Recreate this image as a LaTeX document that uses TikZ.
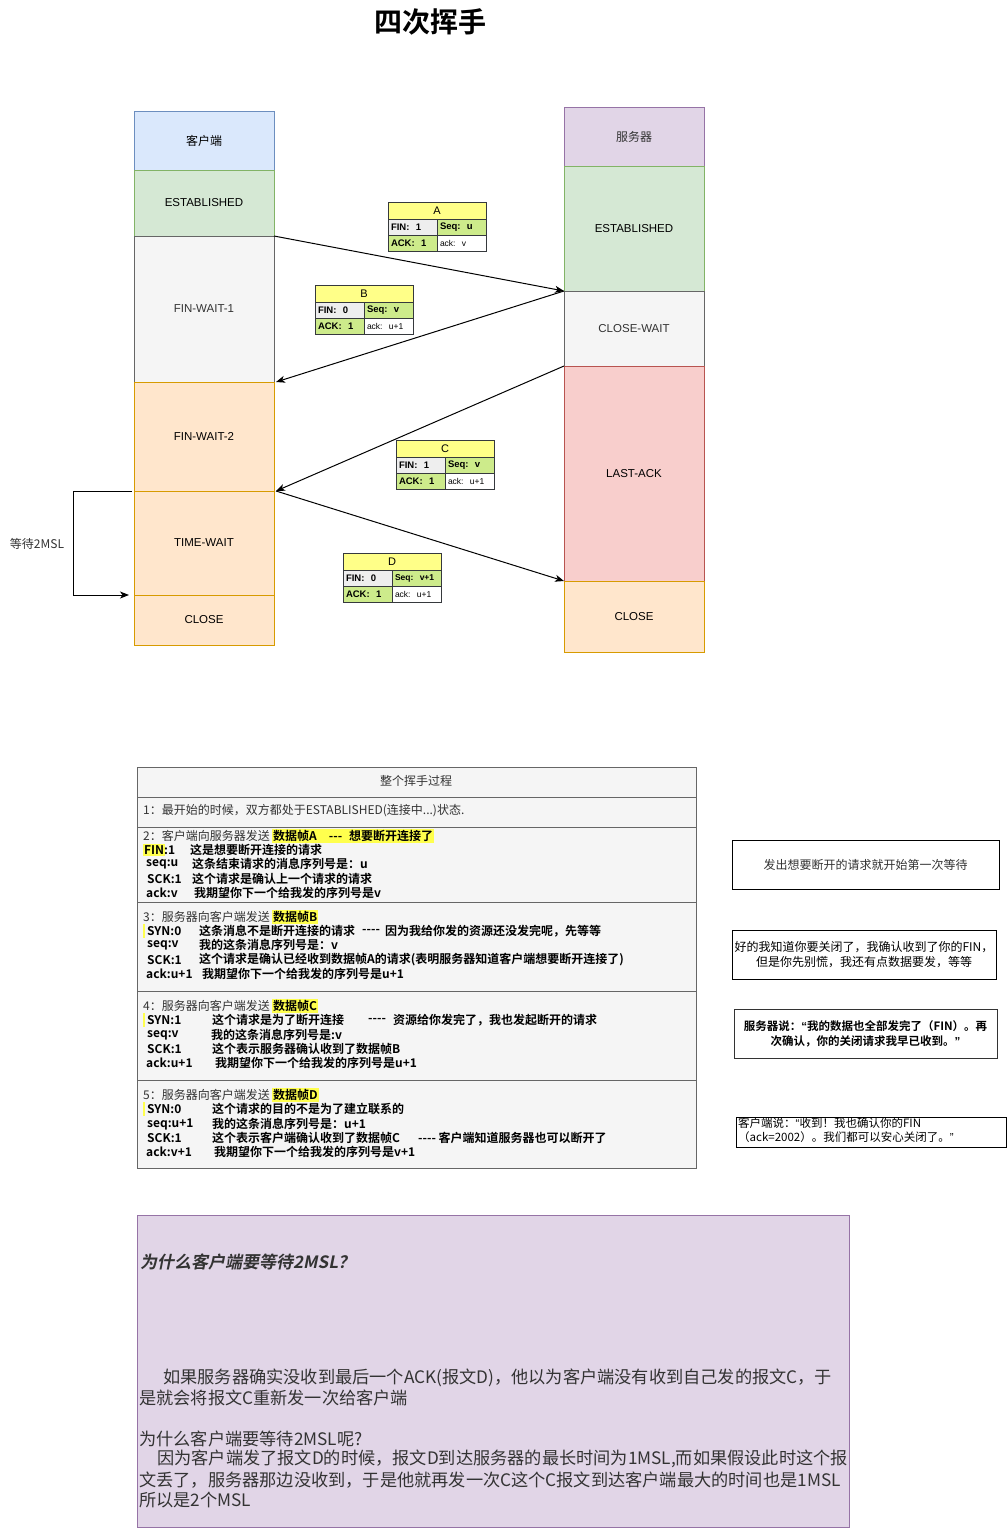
\documentclass[tikz,border=0pt]{standalone}
\usepackage{fontspec}
\setmainfont{Noto Sans CJK SC}[BoldFont={Noto Sans CJK SC Bold}, ItalicFont={Noto Sans CJK SC}, ItalicFeatures={FakeSlant=0.2}, BoldItalicFont={Noto Sans CJK SC Bold}, BoldItalicFeatures={FakeSlant=0.2}]
\newfontfamily\lat{Liberation Sans}
\usetikzlibrary{arrows.meta}
\definecolor{cbluef}{HTML}{DAE8FC}\definecolor{cbluel}{HTML}{6C8EBF}
\definecolor{cgreenf}{HTML}{D5E8D4}\definecolor{cgreenl}{HTML}{82B366}
\definecolor{cgrayf}{HTML}{F5F5F5}\definecolor{cgrayl}{HTML}{666666}
\definecolor{corangef}{HTML}{FFE6CC}\definecolor{corangel}{HTML}{D79B00}
\definecolor{cpurf}{HTML}{E1D5E7}\definecolor{cpurl}{HTML}{9673A6}
\definecolor{credf}{HTML}{F8CECC}\definecolor{credl}{HTML}{B85450}
\definecolor{fyel}{HTML}{FFFF88}\definecolor{fborder}{HTML}{36393D}
\definecolor{fgreen}{HTML}{CDEB8B}\definecolor{fgray}{HTML}{EEEEEE}
\definecolor{hly}{HTML}{FFFF4D}\definecolor{c333}{HTML}{333333}
\newcounter{tn}
\newcommand\tx[4][]{\stepcounter{tn}\node[txt,#1] (t\arabic{tn}) at (#2,#3) {#4};}
\newcommand\dsh{-{}-{}-}
\newcommand\dshh{-{}-{}-{}-}
\newcommand\ftab[8]{%
 \node[ftitle] (#1t) at (#2,#3) {#4};
 \node[fcell, fill=fgray, anchor=north west] (#1a) at (#1t.south west) {\textbf{#5}};
 \node[fcell, fill=fgreen, anchor=north east] (#1b) at (#1t.south east) {\textbf{#6}};
 \node[fcell, fill=fgreen, anchor=north west] (#1c) at (#1a.south west) {\textbf{#7}};
 \node[fcell, fill=white, anchor=north west] (#1d) at (#1b.south west) {\fontsize{8.5}{9}\selectfont #8};
}
\begin{document}
\begin{tikzpicture}[x=1pt,y=-1pt,
 st/.style={draw, line width=1pt, minimum width=140, anchor=north west, inner sep=0, outer sep=0, font=\lat\fontsize{11.5}{13}\selectfont},
 sblue/.style={st, fill=cbluef, draw=cbluel, font=\fontsize{12}{14}\selectfont},
 spur/.style={st, fill=cpurf, draw=cpurl, font=\fontsize{12}{14}\selectfont, text=c333},
 sgreen/.style={st, fill=cgreenf, draw=cgreenl},
 sgray/.style={st, fill=cgrayf, draw=cgrayl, text=c333},
 sorange/.style={st, fill=corangef, draw=corangel},
 sred/.style={st, fill=credf, draw=credl},
 arr/.style={draw=black, line width=1pt, -{Stealth[length=9pt,width=7pt,inset=2.5pt]}},
 ftitle/.style={draw=fborder, fill=fyel, line width=1pt, minimum width=98, minimum height=17, anchor=north west, inner sep=0, outer sep=0, font=\lat\fontsize{11}{12}\selectfont},
 fcell/.style={draw=fborder, line width=1pt, minimum height=16, text width=43, inner xsep=3, inner ysep=0, outer sep=0, align=left, font=\lat\fontsize{9.5}{10}\selectfont},
 txt/.style={anchor=west, inner sep=0, font=\fontsize{12}{14}\selectfont, text=c333},
 bd/.style={font=\bfseries\fontsize{12}{14}\selectfont, text=black},
 hl/.style={fill=hly, inner xsep=1, inner ysep=1.5},
 tbl/.style={draw=cgrayl, fill=cgrayf, line width=1pt, minimum width=559, anchor=north west, inner sep=0, outer sep=0},
 rbox/.style={draw=black, line width=1pt, anchor=north west, inner sep=0, outer sep=0, align=center},
 ptxt/.style={anchor=west, inner sep=0, font=\fontsize{17.2}{20}\selectfont, text=c333}
]
\fill[white] (0,0) rectangle (1007,1528);
\useasboundingbox (0,0) rectangle (1007,1528);

\node[font=\bfseries\fontsize{28}{30}\selectfont] (title) at (430,22) {四次挥手};

% client column
\node[sblue, minimum height=59] (c0) at (134,111) {客户端};
\node[sgreen, minimum height=66] (c1) at (134,170) {ESTABLISHED};
\node[sgray, minimum height=146] (c2) at (134,236) {FIN-WAIT-1};
\node[sorange, minimum height=109] (c3) at (134,382) {FIN-WAIT-2};
\node[sorange, minimum height=104] (c4) at (134,491) {TIME-WAIT};
\node[sorange, minimum height=50] (c5) at (134,595) {CLOSE};

% server column
\node[spur, minimum height=59] (s0) at (564,107) {服务器};
\node[sgreen, minimum height=125] (s1) at (564,166) {ESTABLISHED};
\node[sgray, minimum height=75] (s2) at (564,291) {CLOSE-WAIT};
\node[sred, minimum height=215] (s3) at (564,366) {LAST-ACK};
\node[sorange, minimum height=71] (s4) at (564,581) {CLOSE};

% messages
\draw[arr] (c2.north east) -- (s2.north west);
\draw[arr] (s2.north west) -- ([xshift=2pt]c3.north east);
\draw[arr] (s3.north west) -- ([xshift=2pt]c4.north east);
\draw[arr] ([xshift=2pt]c4.north east) -- (s4.north west);

% wait 2MSL
\draw[arr] ([xshift=-2pt]c4.north west) -- (73,491) |- ([xshift=-5pt]c5.north west);
\node[font=\fontsize{12}{14}\selectfont, text=c333, inner sep=0] (w2msl) at (37,544) {等待2MSL};

% frame tables
\ftab{fa}{388}{202}{A}{FIN:\ \ 1}{Seq:\ \ u}{ACK:\ \ 1}{ack:\ \ v}
\ftab{fb}{315}{285}{B}{FIN:\ \ 0}{Seq:\ \ v}{ACK:\ \ 1}{ack:\ \ u+1}
\ftab{fc}{396}{440}{C}{FIN:\ \ 1}{Seq:\ \ v}{ACK:\ \ 1}{ack:\ \ u+1}
\ftab{fd}{343}{553}{D}{FIN:\ \ 0}{\fontsize{8.5}{9}\selectfont Seq:\ \ v+1}{ACK:\ \ 1}{ack:\ \ u+1}

% process table
\node[tbl, minimum height=30] (r0) at (137,767) {};
\node[tbl, minimum height=30] (r1) at (137,797) {};
\node[tbl, minimum height=75] (r2) at (137,827) {};
\node[tbl, minimum height=89] (r3) at (137,902) {};
\node[tbl, minimum height=89] (r4) at (137,991) {};
\node[tbl, minimum height=88] (r5) at (137,1080) {};
\node[font=\fontsize{12}{14}\selectfont, text=c333, inner sep=0] (hdr) at (416,781) {整个挥手过程};
\tx{143}{811}{1：最开始的时候，双方都处于ESTABLISHED(连接中...)状态.}

% row 2
\tx{143}{836}{2：客户端向服务器发送}
\tx[bd,hl]{272}{836}{数据帧A\hspace{12pt}\dsh\hspace{7pt}想要断开连接了}
\tx[bd,hl]{143}{850}{FIN}
\tx[bd]{164}{850}{:1}
\tx[bd]{190}{850}{这是想要断开连接的请求}
\tx[bd]{146}{864}{seq:u}
\tx[bd]{192}{864}{这条结束请求的消息序列号是：u}
\tx[bd]{147}{879}{SCK:1}
\tx[bd]{192}{879}{这个请求是确认上一个请求的请求}
\tx[bd]{146}{893}{ack:v}
\tx[bd]{194}{893}{我期望你下一个给我发的序列号是v}

% row 3
\tx{143}{917}{3：服务器向客户端发送}
\tx[bd,hl]{272}{917}{数据帧B}
\fill[hly] (142.5,924) rectangle (145,938);
\tx[bd]{147}{931}{SYN:0}
\tx[bd]{199}{931}{这条消息不是断开连接的请求}
\tx[bd]{362}{931}{\dshh}
\tx[bd]{385}{931}{因为我给你发的资源还没发完呢，先等等}
\tx[bd]{147}{945}{seq:v}
\tx[bd]{199}{945}{我的这条消息序列号是：v}
\tx[bd]{147}{960}{SCK:1}
\tx[bd]{199}{960}{这个请求是确认已经收到数据帧A的请求(表明服务器知道客户端想要断开连接了)}
\tx[bd]{146}{974}{ack:u+1}
\tx[bd]{202}{974}{我期望你下一个给我发的序列号是u+1}

% row 4
\tx{143}{1006}{4：服务器向客户端发送}
\tx[bd,hl]{272}{1006}{数据帧C}
\fill[hly] (142.5,1013) rectangle (145,1027);
\tx[bd]{147}{1020}{SYN:1}
\tx[bd]{212}{1020}{这个请求是为了断开连接}
\tx[bd]{368}{1020}{\dshh}
\tx[bd]{393}{1020}{资源给你发完了，我也发起断开的请求}
\tx[bd]{147}{1035}{seq:v}
\tx[bd]{211}{1035}{我的这条消息序列号是:v}
\tx[bd]{147}{1049}{SCK:1}
\tx[bd]{212}{1049}{这个表示服务器确认收到了数据帧B}
\tx[bd]{146}{1063}{ack:u+1}
\tx[bd]{215}{1063}{我期望你下一个给我发的序列号是u+1}

% row 5
\tx{143}{1095}{5：服务器向客户端发送}
\tx[bd,hl]{272}{1095}{数据帧D}
\fill[hly] (142.5,1102) rectangle (145,1116);
\tx[bd]{147}{1109}{SYN:0}
\tx[bd]{212}{1109}{这个请求的目的不是为了建立联系的}
\tx[bd]{147}{1124}{seq:u+1}
\tx[bd]{212}{1124}{我的这条消息序列号是：u+1}
\tx[bd]{147}{1138}{SCK:1}
\tx[bd]{212}{1138}{这个表示客户端确认收到了数据帧C}
\tx[bd]{418}{1138}{\dshh\ 客户端知道服务器也可以断开了}
\tx[bd]{146}{1152}{ack:v+1}
\tx[bd]{214}{1152}{我期望你下一个给我发的序列号是v+1}

% right notes
\node[rbox, minimum width=267, minimum height=49, font=\fontsize{12}{15}\selectfont, text=c333] (n1) at (732,840) {发出想要断开的请求就开始第一次等待};
\node[rbox, minimum width=264, minimum height=49, font=\fontsize{12}{15}\selectfont] (n2) at (732,930) {好的我知道你要关闭了，我确认收到了你的FIN，\\但是你先别慌，我还有点数据要发，等等};
\node[rbox, draw=c333, minimum width=263, minimum height=49, font=\bfseries\fontsize{11.5}{15}\selectfont] (n3) at (734,1009) {服务器说：{\lat“}我的数据也全部发完了（FIN）。再\\次确认，你的关闭请求我早已收到。{\lat”}};
\node[rbox, minimum width=270, minimum height=30] (n4) at (736,1117) {};
\node[anchor=north west, inner sep=0, align=left, font=\fontsize{11.5}{14}\selectfont] (n4t) at (738,1118) {客户端说：{\lat“}收到！我也确认你的FIN\\（ack=2002）。我们都可以安心关闭了。{\lat”}};

% why 2MSL box
\node[draw=cpurl, fill=cpurf, line width=1pt, anchor=north west, minimum width=712, minimum height=312, inner sep=0, outer sep=0] (why) at (137,1215) {};
\node[ptxt, font=\bfseries\itshape\fontsize{17}{20}\selectfont] (q1) at (140,1262) {为什么客户端要等待2MSL？};
\node[ptxt] (p1) at (163,1378) {如果服务器确实没收到最后一个ACK(报文D)，他以为客户端没有收到自己发的报文C，于};
\node[ptxt] (p2) at (139,1398) {是就会将报文C重新发一次给客户端};
\node[ptxt] (p3) at (139,1439) {为什么客户端要等待2MSL呢?};
\node[ptxt] (p4) at (157,1459) {因为客户端发了报文D的时候，报文D到达服务器的最长时间为1MSL,而如果假设此时这个报};
\node[ptxt] (p5) at (139,1480) {文丢了，服务器那边没收到，于是他就再发一次C这个C报文到达客户端最大的时间也是1MSL};
\node[ptxt] (p6) at (139,1500) {所以是2个MSL};
\end{tikzpicture}
\end{document}
